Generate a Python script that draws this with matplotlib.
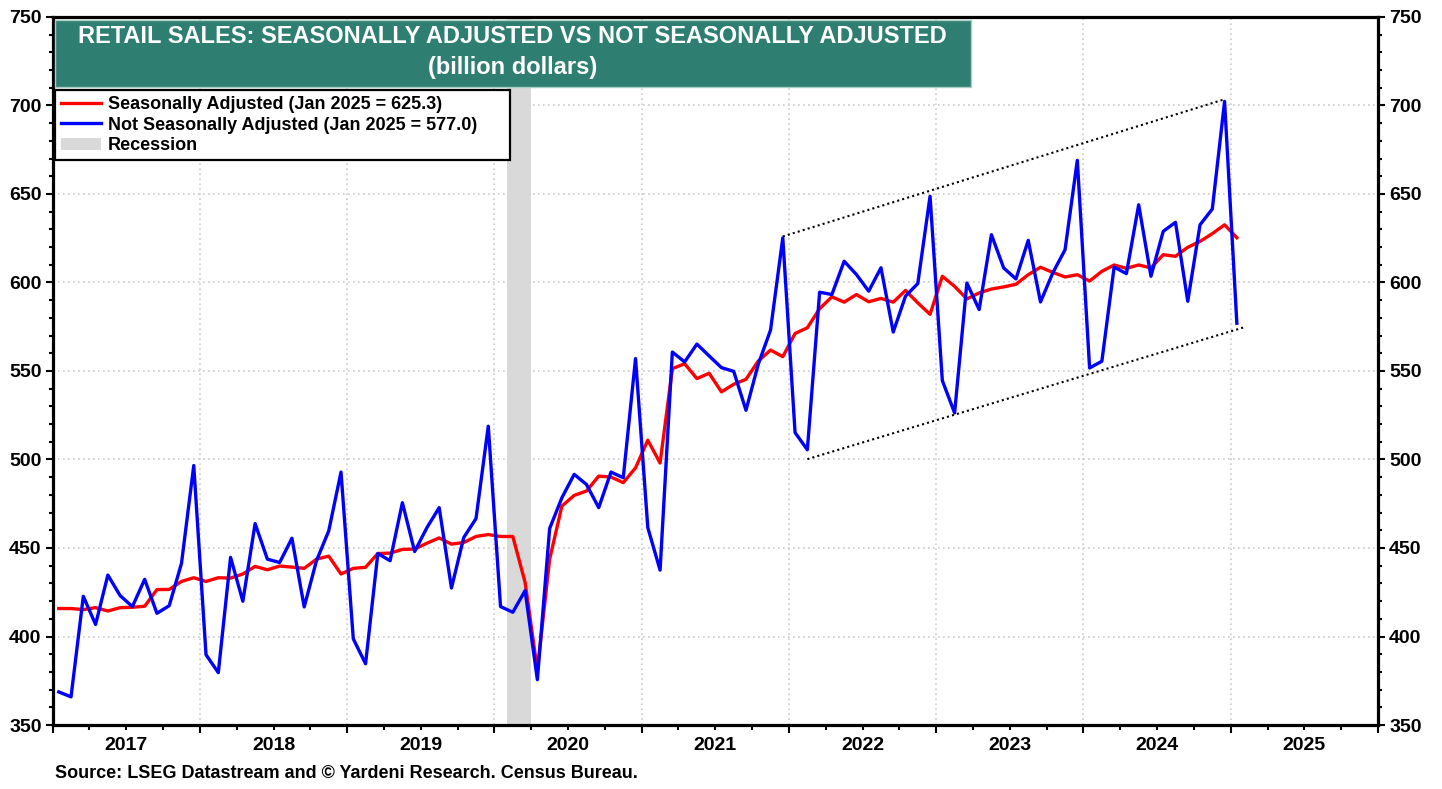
import matplotlib
matplotlib.use("Agg")
import matplotlib.pyplot as plt
from matplotlib.patches import Rectangle, Patch
from matplotlib.lines import Line2D
from matplotlib.ticker import FixedLocator, MultipleLocator, NullFormatter, FuncFormatter
import numpy as np

plt.rcParams['font.family'] = ['Liberation Sans', 'DejaVu Sans']
plt.rcParams['font.weight'] = 'bold'

# monthly retail sales, billion dollars, Jan 2017 .. Jan 2025
first_year = 2017
seasonally_adjusted = [
    415.8, 415.8, 415.2, 416.3, 414.4, 416.3, 416.5, 417.1, 426.5, 426.6, 431.1, 433.2,
    431.1, 433.2, 433.0, 435.3, 439.6, 437.7, 439.8, 439.2, 438.5, 443.7, 445.4, 435.3,
    438.5, 439.1, 446.9, 447.1, 449.2, 449.4, 452.7, 455.7, 452.2, 453.1, 456.5, 457.6,
    456.5, 456.5, 430.6, 381.0, 443.7, 473.7, 479.7, 482.2, 490.6, 490.1, 486.9, 495.3,
    510.9, 498.0, 551.3, 554.1, 545.7, 548.7, 538.2, 542.5, 545.3, 555.6, 561.8, 558.1,
    571.2, 574.4, 585.2, 591.9, 588.9, 593.2, 589.1, 591.0, 588.9, 595.5, 588.5, 582.0,
    603.5, 597.8, 590.7, 594.1, 596.3, 597.5, 599.0, 604.4, 608.6, 605.7, 603.1, 604.4,
    600.8, 606.3, 609.9, 608.0, 609.9, 608.2, 615.7, 614.8, 619.9, 623.2, 627.6, 632.6,
    625.3,
]
not_seasonally_adjusted = [
    368.7, 365.9, 422.7, 406.8, 434.7, 423.1, 416.9, 432.3, 413.1, 417.4, 441.3, 496.6,
    389.7, 379.6, 444.7, 419.9, 463.8, 443.7, 441.8, 455.5, 416.7, 442.8, 459.7, 492.9,
    398.7, 384.6, 446.9, 442.8, 475.6, 448.0, 461.5, 472.8, 427.4, 455.9, 466.6, 518.8,
    416.9, 413.7, 425.9, 375.6, 461.0, 478.4, 491.6, 485.9, 472.8, 492.9, 489.7, 557.0,
    461.5, 437.5, 560.7, 555.1, 565.2, 558.5, 551.9, 549.8, 527.8, 553.8, 573.1, 625.2,
    515.2, 505.5, 594.5, 593.2, 612.0, 604.5, 595.1, 608.3, 572.0, 592.3, 599.4, 648.7,
    544.6, 526.3, 599.7, 584.7, 627.0, 608.2, 602.0, 623.8, 589.0, 605.4, 618.5, 669.0,
    551.7, 555.5, 608.7, 605.0, 643.9, 603.5, 628.9, 634.0, 589.4, 632.6, 641.5, 702.3,
    577.0,
]
years = list(range(2017, 2027))
recession = [2020 + 1 / 12, 2020 + 3 / 12]
# dotted channel drawn over the post-2021 data
upper_trend_x = [2021 + 11.5 / 12, 2024 + 11.5 / 12]
upper_trend_y = [626.0, 703.5]
lower_trend_x = [2022 + 1.5 / 12, 2025 + 1.1 / 12]
lower_trend_y = [500.2, 574.7]

labels = ["Seasonally Adjusted (Jan 2025 = 625.3)",
          "Not Seasonally Adjusted (Jan 2025 = 577.0)",
          "Recession"]

months = first_year + (np.arange(len(seasonally_adjusted)) + 0.5) / 12

fig = plt.figure(figsize=(14.42, 7.89), dpi=100)
ax = fig.add_axes([0.0365, 0.0811, 0.9191, 0.8974])

ax.axvspan(recession[0], recession[1], color="#D9D9D9", lw=0, zorder=1)
ax.plot(months, seasonally_adjusted, color="#FF0000", lw=2.4, zorder=3)
ax.plot(months, not_seasonally_adjusted, color="#0000FF", lw=2.4, zorder=4)
ax.plot(upper_trend_x, upper_trend_y, color="black", lw=1.5, linestyle=(0, (1, 1.5)), zorder=4)
ax.plot(lower_trend_x, lower_trend_y, color="black", lw=1.5, linestyle=(0, (1, 1.5)), zorder=4)

ax.set_xlim(years[0], years[-1])
ax.set_ylim(350, 750)

# year boundaries get long ticks, quarters short ones; year names sit mid-year
ax.xaxis.set_major_locator(FixedLocator(years))
ax.xaxis.set_major_formatter(NullFormatter())
quarters = [y + q / 4 for y in years[:-1] for q in (1, 2, 3)]
ax.xaxis.set_minor_locator(FixedLocator(quarters))
ax.xaxis.set_minor_formatter(FuncFormatter(
    lambda v, p: str(int(v)) if abs(v % 1 - 0.5) < 1e-6 else ""))
ax.yaxis.set_major_locator(MultipleLocator(50))
ax.yaxis.set_minor_locator(MultipleLocator(10))

ax.tick_params(axis="both", which="both", direction="out", width=1.5, labelsize=14)
ax.tick_params(axis="x", which="major", length=6)
ax.tick_params(axis="x", which="minor", length=3.5, pad=5)
ax.tick_params(axis="y", which="major", length=5, pad=3, left=True, right=True,
               labelleft=True, labelright=True)
ax.tick_params(axis="y", which="minor", length=3, left=True, right=True)

ax.grid(True, which="major", color="#CCCCCC", linestyle=(0, (1, 2)), lw=1.2, zorder=0)
ax.set_axisbelow(True)
for sp in ax.spines.values():
    sp.set_linewidth(2.3)

# title banner
ax.add_patch(Rectangle((0.0017, 0.901), 0.6913, 0.0948, transform=ax.transAxes,
                       facecolor="#2F7E72", edgecolor="#A9CCC5", lw=1, zorder=5))
ax.text(0.347, 0.972, "RETAIL SALES: SEASONALLY ADJUSTED VS NOT SEASONALLY ADJUSTED",
        transform=ax.transAxes, ha="center", va="center", color="white",
        fontsize=17, fontweight="bold", zorder=6)
ax.text(0.347, 0.928, "(billion dollars)", transform=ax.transAxes, ha="center",
        va="center", color="white", fontsize=17, fontweight="bold", zorder=6)

handles = [Line2D([], [], color="#FF0000", lw=2.4),
           Line2D([], [], color="#0000FF", lw=2.4),
           Patch(facecolor="#D9D9D9", edgecolor="none")]
leg = ax.legend(handles, labels, loc="upper left", mode="expand",
                bbox_to_anchor=(0.0017, 0.801, 0.3435, 0.096), borderaxespad=0,
                fancybox=False, framealpha=1, edgecolor="black",
                prop={"weight": "bold", "size": 13}, handlelength=2.2,
                handletextpad=0.4, labelspacing=0.21, borderpad=0.33)
leg.get_frame().set_linewidth(1.6)
leg.set_zorder(6)

fig.text(55 / 1442, 1 - 774 / 789,
         "Source: LSEG Datastream and \u00a9 Yardeni Research. Census Bureau.",
         fontsize=13, fontweight="bold", va="center", ha="left")

fig.savefig("out.png", dpi=100)
